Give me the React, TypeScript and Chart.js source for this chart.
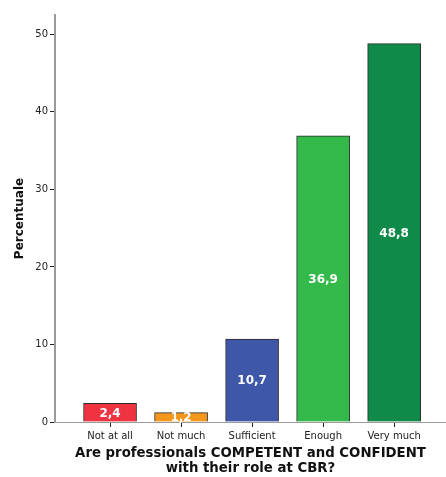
import { useEffect, useRef } from "react";
import { Chart, registerables } from "chart.js";

Chart.register(...registerables);

// Answer categories and share of respondents (%)
const categories = ["Not at all", "Not much", "Sufficient", "Enough", "Very much"];
const percentages = [2.4, 1.2, 10.7, 36.9, 48.8];
const barColors = ["#ef3340", "#f5961d", "#3e57a8", "#34b94b", "#0f8a48"];
const yTicks = [0, 10, 20, 30, 40, 50];

const FONT = "'DejaVu Sans', Verdana, sans-serif";

const formatValue = (v: number) => v.toFixed(1).replace(".", ",");

// Writes each bar's value in white, centred inside the bar
const valueLabels = {
  id: "valueLabels",
  afterDatasetsDraw(chart: any) {
    const ctx = chart.ctx;
    const meta = chart.getDatasetMeta(0);
    ctx.save();
    ctx.font = `bold 12px ${FONT}`;
    ctx.fillStyle = "#ffffff";
    ctx.textAlign = "center";
    ctx.textBaseline = "middle";
    meta.data.forEach((bar: any, i: number) => {
      const { x, y, base } = bar.getProps(["x", "y", "base"], true);
      ctx.fillText(formatValue(percentages[i]), x, (y + base) / 2 + 1);
    });
    ctx.restore();
  },
};

export default function App() {
  const canvasRef = useRef<HTMLCanvasElement | null>(null);

  useEffect(() => {
    document.body.style.margin = "0";
    const canvas = canvasRef.current;
    if (!canvas) return;
    const chart = new Chart(canvas, {
      type: "bar",
      data: {
        datasets: [
          {
            data: percentages.map((v, i) => ({ x: i, y: v })),
            backgroundColor: barColors,
            borderColor: "#2b2b2b",
            borderWidth: 1,
            barThickness: 53,
          },
        ],
      },
      options: {
        animation: false,
        responsive: true,
        maintainAspectRatio: false,
        layout: { padding: { top: 15, right: 0, left: 0, bottom: 0 } },
        plugins: {
          legend: { display: false },
          tooltip: { enabled: false },
        },
        scales: {
          x: {
            type: "linear",
            min: -0.775,
            max: 4.73,
            offset: false,
            afterBuildTicks: (scale: any) => {
              scale.ticks = categories.map((_, i) => ({ value: i }));
            },
            afterFit: (scale: any) => {
              scale.height = 55;
            },
            ticks: {
              callback: (value: any) => categories[Number(value)] ?? "",
              color: "#222",
              font: { family: FONT, size: 10 },
              padding: 3,
              maxRotation: 0,
              autoSkip: false,
            },
            grid: {
              offset: false,
              drawOnChartArea: false,
              tickLength: 5,
              tickColor: "#222",
              tickWidth: 1,
            },
            border: { color: "#9a9a9a", width: 1 },
            title: {
              display: true,
              text: ["Are professionals COMPETENT and CONFIDENT", "with their role at CBR?"],
              color: "#111",
              font: { family: FONT, size: 13.3, weight: "bold", lineHeight: 1.15 },
              padding: { top: 0, bottom: 1 },
            },
          },
          y: {
            min: 0,
            max: 52.5,
            afterBuildTicks: (scale: any) => {
              scale.ticks = yTicks.map((v) => ({ value: v }));
            },
            afterFit: (scale: any) => {
              scale.width = 55;
            },
            ticks: {
              color: "#222",
              font: { family: FONT, size: 10 },
              padding: 2,
            },
            grid: {
              drawOnChartArea: false,
              tickLength: 5,
              tickColor: "#222",
              tickWidth: 1,
            },
            border: { color: "#9a9a9a", width: 2 },
            title: {
              display: true,
              text: "Percentuale",
              color: "#111",
              font: { family: FONT, size: 12, weight: "bold" },
              padding: { top: 13, bottom: 0 },
            },
          },
        },
      },
      plugins: [valueLabels],
    });
    return () => chart.destroy();
  }, []);

  return (
    <div style={{ position: "absolute", left: 0, top: 0, width: 446, height: 477 }}>
      <canvas ref={canvasRef} />
    </div>
  );
}
